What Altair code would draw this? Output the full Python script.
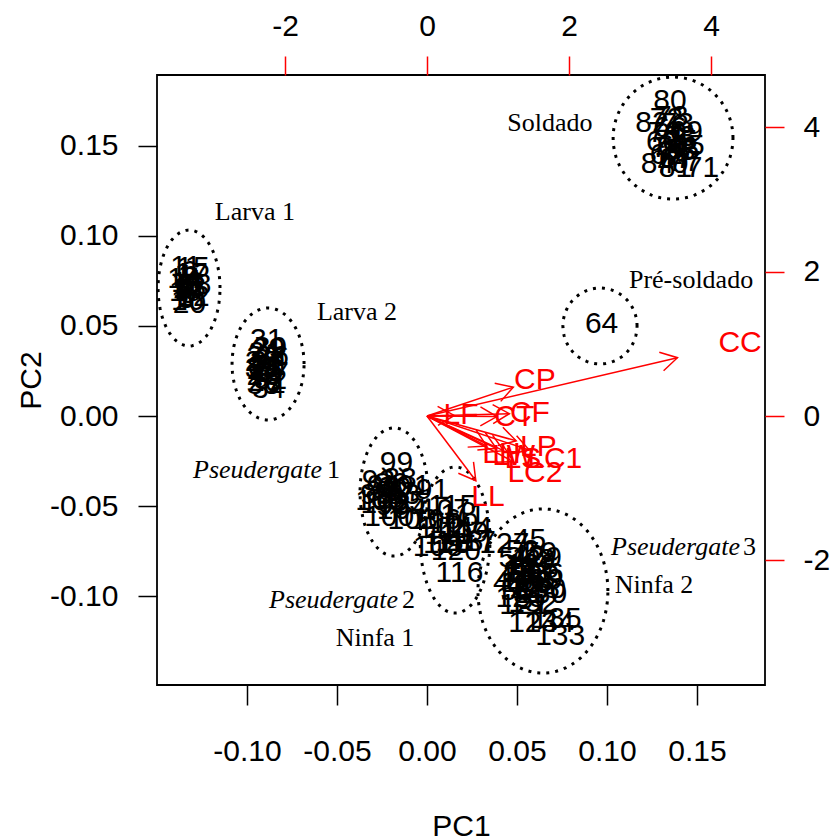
import math
import altair as alt
import pandas as pd

# ---------------- observation scores (PC1, PC2) ----------------
larva1_id = list(range(1, 21))
larva1_pc1 = [-0.134, -0.131, -0.133, -0.130, -0.135, -0.132, -0.129, -0.134, -0.131, -0.133,
              -0.134, -0.130, -0.132, -0.135, -0.130, -0.133, -0.131, -0.129, -0.134, -0.132]
larva1_pc2 = [0.078, 0.072, 0.068, 0.075, 0.070, 0.080, 0.069, 0.065, 0.077, 0.074,
              0.083, 0.066, 0.071, 0.076, 0.082, 0.064, 0.079, 0.073, 0.069, 0.062]

larva2_id = list(range(21, 41))
larva2_pc1 = [-0.090, -0.088, -0.091, -0.087, -0.089, -0.092, -0.086, -0.090, -0.088, -0.091,
              -0.089, -0.087, -0.090, -0.088, -0.092, -0.086, -0.089, -0.091, -0.087, -0.090]
larva2_pc2 = [0.035, 0.028, 0.022, 0.031, 0.025, 0.030, 0.024, 0.019, 0.037, 0.033,
              0.042, 0.020, 0.027, 0.015, 0.026, 0.033, 0.030, 0.017, 0.038, 0.023]

pseud3a_id = list(range(41, 61))
pseud3a_pc1 = [0.052, 0.056, 0.060, 0.048, 0.057, 0.054, 0.046, 0.062, 0.051, 0.068,
               0.057, 0.053, 0.061, 0.049, 0.064, 0.055, 0.059, 0.050, 0.063, 0.066]
pseud3a_pc2 = [-0.083, -0.078, -0.087, -0.090, -0.069, -0.094, -0.093, -0.080, -0.086, -0.096,
               -0.099, -0.075, -0.092, -0.079, -0.085, -0.088, -0.102, -0.097, -0.076, -0.091]

soldier_id = [61, 62, 63, 65, 66, 67, 68, 69, 70, 71, 72, 73, 74, 75, 76, 77, 78, 79, 80, 81, 82, 83, 84, 85]
soldier_pc1 = [0.137, 0.133, 0.140, 0.142, 0.135, 0.138, 0.131, 0.144, 0.136, 0.153, 0.133, 0.139,
               0.134, 0.141, 0.137, 0.143, 0.136, 0.132, 0.135, 0.138, 0.125, 0.140, 0.128, 0.145]
soldier_pc2 = [0.150, 0.145, 0.155, 0.148, 0.160, 0.143, 0.152, 0.158, 0.140, 0.138, 0.165, 0.162,
               0.149, 0.153, 0.146, 0.141, 0.166, 0.157, 0.175, 0.138, 0.163, 0.147, 0.140, 0.150]

presoldier_id = [64]
presoldier_pc1 = [0.097]
presoldier_pc2 = [0.051]

pseud1_id = list(range(86, 106))
pseud1_pc1 = [-0.020, -0.025, -0.015, -0.022, -0.018, 0.003, -0.027, -0.013, -0.024, -0.010,
              -0.019, -0.016, -0.028, -0.017, -0.021, -0.012, -0.023, -0.008, -0.014, -0.026]
pseud1_pc2 = [-0.038, -0.042, -0.035, -0.046, -0.040, -0.041, -0.036, -0.044, -0.039, -0.048,
              -0.050, -0.043, -0.044, -0.026, -0.056, -0.039, -0.049, -0.058, -0.052, -0.047]

pseud2_id = list(range(106, 121))
pseud2_pc1 = [0.005, 0.010, 0.006, 0.015, 0.012, 0.020, 0.008, 0.018, 0.023, 0.014,
              0.018, 0.025, 0.011, 0.021, 0.016]
pseud2_pc2 = [-0.058, -0.052, -0.073, -0.060, -0.066, -0.055, -0.063, -0.070, -0.062, -0.050,
              -0.087, -0.070, -0.071, -0.065, -0.075]

pseud3b_id = list(range(121, 136))
pseud3b_pc1 = [0.054, 0.058, 0.060, 0.059, 0.052, 0.062, 0.043, 0.055, 0.061, 0.064,
               0.056, 0.059, 0.074, 0.068, 0.072]
pseud3b_pc2 = [-0.105, -0.083, -0.096, -0.115, -0.101, -0.088, -0.071, -0.093, -0.079, -0.099,
               -0.086, -0.104, -0.122, -0.115, -0.113]

# ---------------- variable loadings (top / right axes) ----------------
var_names = ["CC", "CP", "LF", "CT", "CF", "LH", "LW", "LS", "LP", "LC1", "LC2", "LL"]
var_pc1 = [4.41, 1.52, 0.48, 1.23, 1.45, 1.05, 1.22, 1.35, 1.57, 1.80, 1.52, 0.86]
var_pc2 = [1.01, 0.50, 0.01, -0.01, 0.04, -0.52, -0.56, -0.60, -0.43, -0.59, -0.79, -1.12]

# ---------------- group ellipses ----------------
ell_name = ["Larva 1", "Larva 2", "Soldado", "Pré-soldado", "Pseudergate 1", "Pseudergate 2", "Pseudergate 3"]
ell_cx = [-0.1322, -0.0883, 0.1367, 0.0961, -0.0183, 0.0156, 0.0644]
ell_cy = [0.0711, 0.0289, 0.1544, 0.0500, -0.0422, -0.0689, -0.0972]
ell_rx = [0.0172, 0.0200, 0.0333, 0.0206, 0.0189, 0.0194, 0.0361]
ell_ry = [0.0322, 0.0311, 0.0339, 0.0211, 0.0356, 0.0406, 0.0456]

# ---------------- group annotations ----------------
ann_text = ["Soldado", "Larva 1", "Larva 2", "Pré-soldado", "Ninfa 1", "Ninfa 2"]
ann_pc1 = [0.0683, -0.0956, -0.0389, 0.1467, -0.0289, 0.1261]
ann_pc2 = [0.1628, 0.1133, 0.0578, 0.0756, -0.1233, -0.0939]

pse_word = ["Pseudergate", "Pseudergate", "Pseudergate"]
pse_num = ["1", "2", "3"]
pse_word_end = [-0.0583, -0.0161, 0.1739]
pse_num_start = [-0.0556, -0.0139, 0.1756]
pse_pc2 = [-0.0300, -0.1022, -0.0728]

# ---------------- layout ----------------
W, H = 608, 610
X_DOM = [-0.15, 0.18778]
Y_DOM = [-0.14944, 0.18944]
XT_DOM = [-3.803, 4.761]
YR_DOM = [-3.727, 4.725]
SANS = "Liberation Sans"
SERIF = "Liberation Serif"
MINUS = chr(0x2212)
LABEL_EXPR = f"replace(datum.label, '{MINUS}', '-')"

ids, p1, p2 = [], [], []
for a, b, c in [(larva1_id, larva1_pc1, larva1_pc2), (larva2_id, larva2_pc1, larva2_pc2),
                (pseud3a_id, pseud3a_pc1, pseud3a_pc2), (soldier_id, soldier_pc1, soldier_pc2),
                (presoldier_id, presoldier_pc1, presoldier_pc2), (pseud1_id, pseud1_pc1, pseud1_pc2),
                (pseud2_id, pseud2_pc1, pseud2_pc2), (pseud3b_id, pseud3b_pc1, pseud3b_pc2)]:
    ids += [str(v) for v in a]
    p1 += b
    p2 += c
obs_df = pd.DataFrame({"lab": ids, "pc1": p1, "pc2": p2})

rows = []
N = 120
for name, cx, cy, rx, ry in zip(ell_name, ell_cx, ell_cy, ell_rx, ell_ry):
    for k in range(N + 1):
        t = 2 * math.pi * k / N
        rows.append({"grp": name, "k": k, "pc1": cx + rx * math.cos(t), "pc2": cy + ry * math.sin(t)})
ell_df = pd.DataFrame(rows)

ann_df = pd.DataFrame({"txt": ann_text, "pc1": ann_pc1, "pc2": ann_pc2})
psw_df = pd.DataFrame({"txt": pse_word, "pc1": pse_word_end, "pc2": pse_pc2})
psn_df = pd.DataFrame({"txt": pse_num, "pc1": pse_num_start, "pc2": pse_pc2})

# arrows: R biplot draws arrows to 0.8 of the label position
sx_px = W / (XT_DOM[1] - XT_DOM[0])
sy_px = H / (YR_DOM[1] - YR_DOM[0])
arr = pd.DataFrame({"name": var_names, "vx": var_pc1, "vy": var_pc2})
arr["x0"] = 0.0
arr["y0"] = 0.0
arr["ax"] = arr["vx"] * 0.8
arr["ay"] = arr["vy"] * 0.8
arr["ang"] = [(math.degrees(math.atan2(-y * sy_px, x * sx_px)) + 360) % 360 for x, y in zip(arr["ax"], arr["ay"])]

# ---------------- scales & axes ----------------
sc_x = alt.Scale(domain=X_DOM, nice=False, zero=False)
sc_y = alt.Scale(domain=Y_DOM, nice=False, zero=False)
sc_xt = alt.Scale(domain=XT_DOM, nice=False, zero=False)
sc_yr = alt.Scale(domain=YR_DOM, nice=False, zero=False)

common = dict(labelFont=SANS, labelFontSize=30, labelColor="black", domain=False, grid=False,
              tickWidth=1.5, labelOverlap=False, labelFlush=False, labelExpr=LABEL_EXPR)

ax_bottom = alt.Axis(orient="bottom", values=[-0.10, -0.05, 0.0, 0.05, 0.10, 0.15], format=".2f",
                     tickSize=20, tickColor="black", labelPadding=31,
                     title="PC1", titleFont=SANS, titleFontSize=30, titleFontWeight="normal",
                     titleColor="black", titleY=141, titleBaseline="middle", **common)
ax_left = alt.Axis(orient="left", values=[-0.10, -0.05, 0.0, 0.05, 0.10, 0.15], format=".2f",
                   tickSize=19, tickColor="black", labelPadding=20, labelAlign="right",
                   labelBaseline="middle",
                   title="PC2", titleFont=SANS, titleFontSize=30, titleFontWeight="normal",
                   titleColor="black", titleAngle=270, titleX=-126, titleY=305,
                   titleBaseline="middle", titleAlign="center", **common)
ax_top = alt.Axis(orient="top", values=[-2, 0, 2, 4], format="d", tickSize=19, tickColor="red",
                  labelPadding=15, title=None, **common)
ax_right = alt.Axis(orient="right", values=[-2, 0, 2, 4], format="d", tickSize=19, tickColor="red",
                    labelPadding=19, labelAlign="left", labelBaseline="middle", title=None, **common)


def xy_a():
    return dict(x=alt.X("pc1:Q", scale=sc_x, axis=ax_bottom), y=alt.Y("pc2:Q", scale=sc_y, axis=ax_left))


ellipses = alt.Chart(ell_df).mark_line(color="black", strokeWidth=3, strokeDash=[3, 6]).encode(
    detail="grp:N", order="k:Q", **xy_a())
obs = alt.Chart(obs_df).mark_text(font=SANS, fontSize=30, color="black").encode(text="lab:N", **xy_a())
ann = alt.Chart(ann_df).mark_text(font=SERIF, fontSize=26, color="black").encode(text="txt:N", **xy_a())
psw = alt.Chart(psw_df).mark_text(font=SERIF, fontSize=26, fontStyle="italic", color="black",
                                  align="right").encode(text="txt:N", **xy_a())
psn = alt.Chart(psn_df).mark_text(font=SERIF, fontSize=26, color="black", align="left").encode(
    text="txt:N", **xy_a())

layer_a = alt.layer(ellipses, obs, ann, psw, psn)

bx = lambda f: alt.X(f"{f}:Q", scale=sc_xt, axis=ax_top)
by = lambda f: alt.Y(f"{f}:Q", scale=sc_yr, axis=ax_right)

shafts = alt.Chart(arr).mark_rule(color="red", strokeWidth=1.5).encode(
    x=bx("x0"), y=by("y0"), x2="ax:Q", y2="ay:Q")
heads = alt.Chart(arr).mark_point(shape="M -1.732 -1 L 0 0 L -1.732 1", filled=False, size=361,
                                  color="red", strokeWidth=1.5, opacity=1).encode(
    x=bx("ax"), y=by("ay"), angle=alt.Angle("ang:Q", scale=None))
vlabels = alt.Chart(arr).mark_text(font=SANS, fontSize=30, color="red").encode(
    x=bx("vx"), y=by("vy"), text="name:N")

layer_b = alt.layer(shafts, heads, vlabels)

chart = alt.layer(layer_a, layer_b).resolve_scale(x="independent", y="independent").properties(
    width=W, height=H,
    autosize=alt.AutoSizeParams(type="none"),
    padding={"left": 157, "top": 75, "right": 67, "bottom": 154},
    background="white",
).configure_view(stroke="black", strokeWidth=1.8)

chart.save("out.html", embed_options={"renderer": "svg", "actions": False})
